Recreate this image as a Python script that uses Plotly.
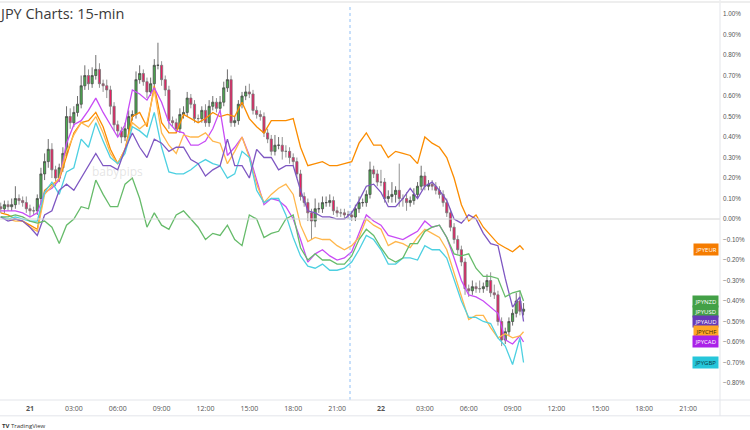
import pandas as pd
import plotly.graph_objects as go

# --- data: JPY crosses, % change, 15-min bars (20th 22:00 -> 22nd 09:45) ---
bar_start = "2022-07-20 22:00"
n_bars = 144

# JPYUSD candles (close per bar, open = previous close)
first_open = 0.06
close = [
    0.05, 0.07, 0.06, 0.07, 0.10, 0.09, 0.08, 0.05, 0.04, 0.04,
    0.10, 0.22, 0.28, 0.34, 0.24, 0.20, 0.25, 0.32, 0.50, 0.47,
    0.52, 0.56, 0.65, 0.70, 0.66, 0.70, 0.73, 0.66, 0.65, 0.63,
    0.55, 0.46, 0.43, 0.40, 0.44, 0.50, 0.51, 0.68, 0.71, 0.67,
    0.62, 0.66, 0.75, 0.75, 0.68, 0.63, 0.48, 0.47, 0.44, 0.51,
    0.52, 0.59, 0.56, 0.49, 0.49, 0.53, 0.47, 0.55, 0.57, 0.54,
    0.57, 0.64, 0.68, 0.47, 0.48, 0.56, 0.60, 0.62, 0.61, 0.53,
    0.51, 0.50, 0.42, 0.39, 0.33, 0.36, 0.36, 0.33, 0.33, 0.30,
    0.28, 0.22, 0.11, 0.08, 0.03, -0.01, 0.05, 0.05, 0.08, 0.08,
    0.09, 0.04, 0.03, 0.03, 0.02, 0.02, 0.01, 0.05, 0.08, 0.08,
    0.12, 0.24, 0.22, 0.18, 0.18, 0.10, 0.11, 0.12, 0.14, 0.10,
    0.10, 0.08, 0.09, 0.12, 0.16, 0.21, 0.16, 0.17, 0.16, 0.14,
    0.12, 0.08, 0.03, -0.04, -0.10, -0.15, -0.21, -0.34, -0.35, -0.33,
    -0.34, -0.34, -0.33, -0.30, -0.36, -0.37, -0.50, -0.59, -0.55, -0.50,
    -0.46, -0.40, -0.45, -0.44,
]
upper_wick = [
    0.02, 0.02, 0.02, 0.03, 0.06, 0.02, 0.02, 0.03, 0.02, 0.02,
    0.02, 0.03, 0.04, 0.05, 0.03, 0.02, 0.02, 0.03, 0.05, 0.04,
    0.03, 0.04, 0.05, 0.05, 0.03, 0.04, 0.07, 0.03, 0.02, 0.03,
    0.02, 0.02, 0.02, 0.02, 0.03, 0.03, 0.02, 0.04, 0.04, 0.02,
    0.02, 0.03, 0.03, 0.11, 0.02, 0.02, 0.02, 0.02, 0.02, 0.03,
    0.03, 0.03, 0.02, 0.02, 0.02, 0.02, 0.03, 0.03, 0.03, 0.02,
    0.03, 0.03, 0.05, 0.02, 0.02, 0.02, 0.02, 0.03, 0.04, 0.02,
    0.02, 0.02, 0.02, 0.02, 0.02, 0.05, 0.04, 0.04, 0.03, 0.02,
    0.02, 0.02, 0.02, 0.02, 0.02, 0.02, 0.05, 0.03, 0.03, 0.03,
    0.03, 0.02, 0.02, 0.02, 0.02, 0.02, 0.02, 0.02, 0.03, 0.02,
    0.02, 0.04, 0.02, 0.02, 0.06, 0.02, 0.03, 0.06, 0.02, 0.13,
    0.02, 0.03, 0.02, 0.03, 0.02, 0.05, 0.02, 0.02, 0.02, 0.02,
    0.02, 0.02, 0.02, 0.02, 0.02, 0.02, 0.02, 0.02, 0.02, 0.03,
    0.02, 0.04, 0.02, 0.03, 0.04, 0.04, 0.02, 0.02, 0.02, 0.02,
    0.02, 0.04, 0.05, 0.03,
]
lower_wick = [
    0.02, 0.02, 0.02, 0.02, 0.02, 0.02, 0.02, 0.02, 0.03, 0.02,
    0.02, 0.03, 0.03, 0.03, 0.04, 0.04, 0.02, 0.02, 0.02, 0.03,
    0.02, 0.02, 0.02, 0.02, 0.03, 0.02, 0.02, 0.02, 0.03, 0.04,
    0.04, 0.03, 0.03, 0.03, 0.02, 0.02, 0.02, 0.02, 0.02, 0.02,
    0.03, 0.02, 0.02, 0.02, 0.03, 0.03, 0.04, 0.02, 0.02, 0.02,
    0.02, 0.02, 0.02, 0.02, 0.02, 0.02, 0.02, 0.02, 0.02, 0.02,
    0.02, 0.02, 0.02, 0.02, 0.02, 0.02, 0.02, 0.02, 0.02, 0.02,
    0.02, 0.02, 0.02, 0.02, 0.02, 0.02, 0.02, 0.04, 0.03, 0.03,
    0.02, 0.02, 0.02, 0.02, 0.04, 0.09, 0.03, 0.02, 0.02, 0.02,
    0.02, 0.02, 0.02, 0.02, 0.02, 0.02, 0.02, 0.02, 0.02, 0.02,
    0.02, 0.02, 0.02, 0.02, 0.02, 0.02, 0.02, 0.03, 0.04, 0.04,
    0.04, 0.04, 0.02, 0.02, 0.02, 0.02, 0.02, 0.02, 0.02, 0.02,
    0.02, 0.02, 0.02, 0.02, 0.02, 0.02, 0.02, 0.03, 0.03, 0.02,
    0.02, 0.02, 0.02, 0.02, 0.02, 0.02, 0.02, 0.03, 0.02, 0.02,
    0.02, 0.02, 0.02, 0.02,
]

# comparison lines, sampled every 30 min plus the last bar
jpyeur = [
    0.03, 0.02, 0.00, -0.01, -0.03, -0.05, 0.14, 0.17, 0.19, 0.31,
    0.42, 0.47, 0.48, 0.52, 0.45, 0.34, 0.27, 0.34, 0.50, 0.52,
    0.45, 0.65, 0.47, 0.42, 0.42, 0.51, 0.49, 0.47, 0.49, 0.52,
    0.50, 0.51, 0.50, 0.57, 0.49, 0.45, 0.42, 0.48, 0.48, 0.48,
    0.49, 0.35, 0.26, 0.27, 0.28, 0.26, 0.26, 0.27, 0.28, 0.37,
    0.42, 0.36, 0.36, 0.30, 0.33, 0.32, 0.31, 0.27, 0.40, 0.37,
    0.35, 0.30, 0.20, 0.07, -0.01, 0.02, -0.04, -0.08, -0.12, -0.14,
    -0.16, -0.13, -0.15,
]
jpycad = [
    0.04, 0.04, 0.04, 0.03, 0.01, 0.03, 0.13, 0.15, 0.19, 0.37,
    0.46, 0.48, 0.53, 0.59, 0.52, 0.46, 0.40, 0.46, 0.63, 0.61,
    0.58, 0.64, 0.57, 0.47, 0.43, 0.42, 0.36, 0.36, 0.38, 0.44,
    0.53, 0.31, 0.35, 0.40, 0.31, 0.19, 0.07, 0.10, 0.09, 0.06,
    0.00, -0.10, -0.21, -0.17, -0.15, -0.18, -0.20, -0.19, -0.16, -0.07,
    0.02, -0.01, -0.03, -0.08, -0.09, -0.10, -0.08, -0.06, -0.01, -0.04,
    -0.03, -0.09, -0.19, -0.30, -0.37, -0.38, -0.40, -0.43, -0.46, -0.59,
    -0.61, -0.57, -0.60,
]
jpychf = [
    0.01, 0.00, -0.01, -0.01, -0.04, -0.06, 0.12, 0.16, 0.20, 0.33,
    0.41, 0.47, 0.45, 0.50, 0.42, 0.32, 0.27, 0.34, 0.47, 0.44,
    0.47, 0.63, 0.42, 0.36, 0.32, 0.41, 0.40, 0.40, 0.42, 0.38,
    0.37, 0.27, 0.33, 0.40, 0.30, 0.17, 0.08, 0.12, 0.15, 0.17,
    0.12, -0.03, -0.11, -0.09, -0.10, -0.10, -0.13, -0.15, -0.13, -0.09,
    0.00, -0.03, -0.05, -0.13, -0.11, -0.12, -0.14, -0.09, -0.05, -0.07,
    -0.09, -0.15, -0.26, -0.37, -0.49, -0.47, -0.47, -0.53, -0.58, -0.56,
    -0.58, -0.57, -0.55,
]
jpygbp = [
    0.01, 0.00, 0.01, 0.00, -0.01, -0.01, 0.13, 0.18, 0.12, 0.23,
    0.25, 0.39, 0.35, 0.47, 0.38, 0.30, 0.27, 0.32, 0.45, 0.43,
    0.40, 0.52, 0.35, 0.23, 0.22, 0.22, 0.24, 0.27, 0.29, 0.27,
    0.26, 0.20, 0.22, 0.33, 0.30, 0.14, 0.08, 0.10, 0.10, 0.02,
    -0.09, -0.18, -0.23, -0.24, -0.22, -0.25, -0.25, -0.24, -0.21, -0.15,
    -0.08, -0.10, -0.15, -0.22, -0.22, -0.19, -0.19, -0.20, -0.13, -0.15,
    -0.15, -0.19, -0.30, -0.40, -0.48, -0.48, -0.50, -0.51, -0.58, -0.62,
    -0.71, -0.58, -0.70,
]
jpyaud = [
    0.01, -0.01, 0.00, -0.01, -0.04, -0.08, 0.02, 0.04, 0.14, 0.17,
    0.14, 0.20, 0.26, 0.32, 0.26, 0.26, 0.24, 0.34, 0.42, 0.35,
    0.30, 0.39, 0.37, 0.33, 0.35, 0.35, 0.29, 0.27, 0.21, 0.24,
    0.26, 0.39, 0.26, 0.26, 0.20, 0.34, 0.30, 0.30, 0.24, 0.26,
    0.26, 0.14, 0.04, 0.03, 0.01, 0.01, 0.00, 0.00, 0.03, 0.09,
    0.16, 0.17, 0.13, 0.06, 0.06, 0.10, 0.15, 0.10, 0.16, 0.18,
    0.14, 0.09, 0.00, -0.02, 0.02, 0.00, -0.07, -0.12, -0.13, -0.29,
    -0.43, -0.38, -0.50,
]
jpynzd = [
    0.01, 0.01, 0.02, 0.01, -0.01, -0.02, -0.01, -0.04, -0.12, -0.03,
    0.00, 0.06, 0.05, 0.19, 0.12, 0.06, 0.06, 0.17, 0.20, 0.10,
    -0.04, 0.03, -0.03, -0.05, 0.02, 0.04, 0.00, -0.04, -0.10, -0.07,
    -0.08, -0.03, -0.10, -0.13, 0.02, 0.00, -0.09, -0.07, -0.06, 0.00,
    0.02, -0.14, -0.20, -0.17, -0.20, -0.20, -0.22, -0.22, -0.18, -0.10,
    -0.05, -0.08, -0.14, -0.19, -0.21, -0.19, -0.12, -0.12, -0.06, -0.04,
    -0.03, -0.09, -0.17, -0.18, -0.17, -0.24, -0.28, -0.28, -0.29, -0.38,
    -0.36, -0.35, -0.40,
]

series_names = ["JPYEUR", "JPYCAD", "JPYCHF", "JPYGBP", "JPYAUD", "JPYNZD"]
series_values = [jpyeur, jpycad, jpychf, jpygbp, jpyaud, jpynzd]
line_colors = {
    "JPYEUR": "#fb8c00", "JPYCAD": "#c84cf5", "JPYCHF": "#ffb74d",
    "JPYGBP": "#4dd0e1", "JPYAUD": "#7e57c2", "JPYNZD": "#66bb6a",
}
label_colors = {
    "JPYEUR": ("#f57c00", "white"), "JPYNZD": ("#43a047", "white"),
    "JPYUSD": ("#43a047", "white"), "JPYAUD": ("#673ab7", "white"),
    "JPYCHF": ("#ffa726", "#3a2a00"), "JPYCAD": ("#aa22e8", "white"),
    "JPYGBP": ("#26c6da", "#0b3940"),
}

y_ticks = [round(-0.8 + 0.1 * k, 2) for k in range(19)]
y_tick_text = [f"{v:.2f}%".replace("-", "\u2212") for v in y_ticks]

# --- build ---
ts = pd.date_range(bar_start, periods=n_bars, freq="15min")
line_times = list(ts[::2]) + [ts[-1]]
opens = [first_open] + close[:-1]
highs = [max(o, c) + w for o, c, w in zip(opens, close, upper_wick)]
lows = [min(o, c) - w for o, c, w in zip(opens, close, lower_wick)]

fig = go.Figure()

for name, vals in zip(series_names, series_values):
    fig.add_trace(go.Scatter(
        x=line_times, y=vals, mode="lines", name=name,
        line=dict(color=line_colors[name], width=1.3),
    ))

fig.add_trace(go.Candlestick(
    x=ts, open=opens, high=highs, low=lows, close=close, name="JPYUSD",
    increasing=dict(fillcolor="#4caf50", line=dict(color="#4a4a4a", width=0.8)),
    decreasing=dict(fillcolor="#e91e63", line=dict(color="#777777", width=0.8)),
    whiskerwidth=0,
))

# right-hand price labels, stacked so they don't overlap
last_vals = {n: v[-1] for n, v in zip(series_names, series_values)}
last_vals["JPYUSD"] = close[-1]
placed = []
for name, v in sorted(last_vals.items(), key=lambda kv: -kv[1]):
    if placed and placed[-1] - v < 0.05:
        v = placed[-1] - 0.05
    placed.append(v)
    bg, fg = label_colors[name]
    fig.add_annotation(
        x=0.999, xref="paper", y=v, yref="y", xanchor="right", yanchor="middle",
        text=name, showarrow=False, bgcolor=bg, borderpad=1.5,
        font=dict(size=6, color=fg, family="Open Sans, Arial"),
    )

t0 = pd.Timestamp("2022-07-20 21:57")
t1 = pd.Timestamp("2022-07-22 23:11")
tick_times = pd.date_range("2022-07-21 00:00", "2022-07-22 21:00", freq="3h")
tick_text = [f"<b>{t.day}</b>" if t.hour == 0 else t.strftime("%H:%M") for t in tick_times]

fig.add_hline(y=0, line=dict(color="#d4d4d4", width=1))
fig.add_vline(x=pd.Timestamp("2022-07-21 21:53").timestamp() * 1000,
              line=dict(color="#90bff5", width=1, dash="dot"))

for yy in (0, -0.04):
    fig.add_shape(type="line", xref="paper", yref="paper", x0=0, x1=1.0417, y0=yy, y1=yy,
                  line=dict(color="#e3e5ea", width=1))
fig.add_shape(type="line", xref="paper", yref="paper", x0=1, x1=1, y0=-0.04, y1=1.01,
              line=dict(color="#e3e5ea", width=1))
fig.add_shape(type="line", xref="paper", yref="paper", x0=0, x1=1.0417, y0=1.005, y1=1.005,
              line=dict(color="#eeeeee", width=2))

fig.add_annotation(x=-0.004, xref="paper", y=0.975, yref="paper", xanchor="left", yanchor="middle",
                   text="JPY Charts: 15-min", showarrow=False,
                   font=dict(size=14.5, color="#3a3a3a", family="Open Sans, Arial"))
fig.add_annotation(x=0.125, xref="paper", y=0.23, yref="y", xanchor="left", yanchor="middle",
                   text="babypips", showarrow=False,
                   font=dict(size=12, color="rgba(195,195,195,0.45)", family="Open Sans, Arial"))
fig.add_annotation(x=0, xref="paper", y=-0.066, yref="paper", xanchor="left", yanchor="middle",
                   text="<b>TV</b> TradingView", showarrow=False,
                   font=dict(size=6, color="#333333", family="Open Sans, Arial"))

fig.update_layout(
    width=750, height=430,
    margin=dict(l=0, r=30, t=4, b=30, autoexpand=False),
    paper_bgcolor="white", plot_bgcolor="white",
    showlegend=False, boxgap=0.15,
    font=dict(family="Open Sans, Arial", color="#555555"),
    xaxis=dict(
        type="date", range=[t0, t1], rangeslider=dict(visible=False),
        tickvals=list(tick_times), ticktext=tick_text, automargin=False,
        showgrid=False, zeroline=False, showline=False, ticks="",
        ticklabelstandoff=3,
        tickfont=dict(size=7, color="#555555"),
    ),
    yaxis=dict(
        side="right", range=[-0.883, 1.049],
        tickvals=y_ticks, ticktext=y_tick_text, automargin=False,
        showgrid=False, zeroline=False, showline=False, ticks="",
        ticklabelstandoff=2,
        tickfont=dict(size=6.3, color="#555555", family="Liberation Sans, Arial"),
    ),
)

# page has a default 8px body margin; drop it so the chart fills the window
fig.write_html("out.html", config={"displayModeBar": False},
               post_script="document.body.style.margin='0px';")
